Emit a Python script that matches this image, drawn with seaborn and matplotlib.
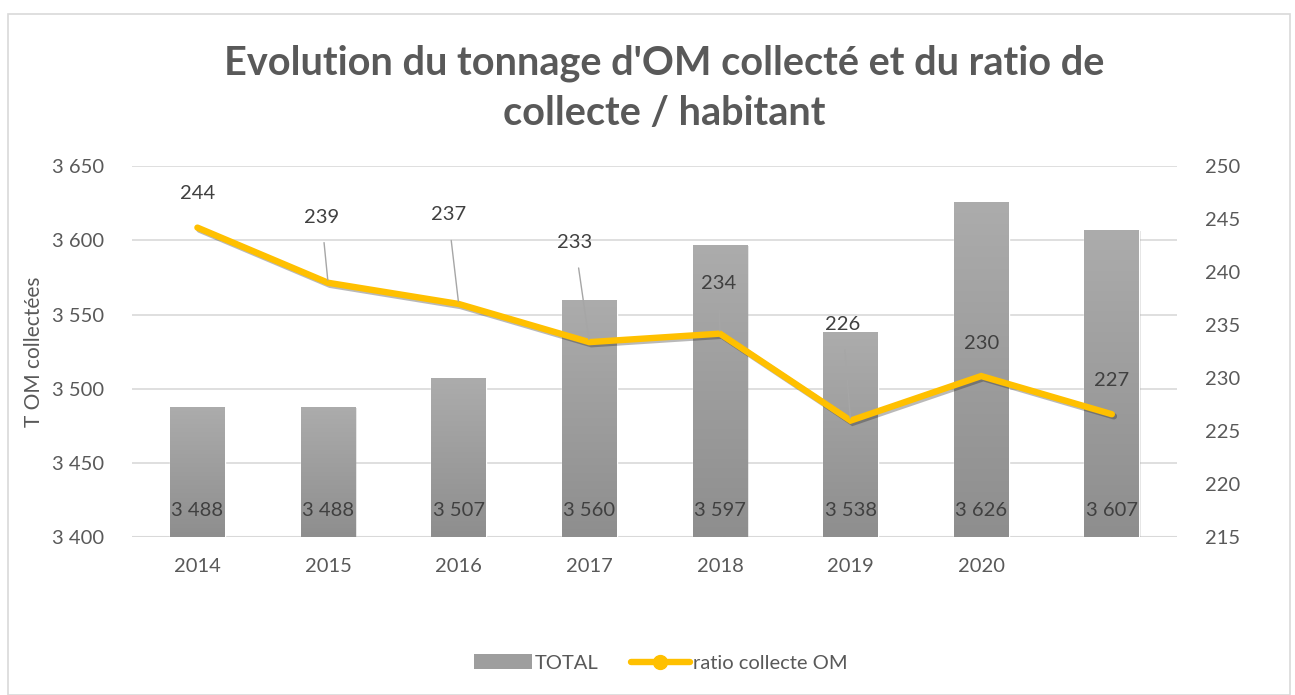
import numpy as np
import pandas as pd
import matplotlib
matplotlib.use("Agg")
import matplotlib.pyplot as plt
import matplotlib.patheffects as pe
from matplotlib.patches import Rectangle
from matplotlib.lines import Line2D
import seaborn as sns

years = ["2014", "2015", "2016", "2017", "2018", "2019", "2020", ""]
total = [3488, 3488, 3507, 3560, 3597, 3538, 3626, 3607]
ratio = [244.2, 239.0, 237.0, 233.4, 234.2, 226.0, 230.2, 226.6]
ratio_labels = ["244", "239", "237", "233", "234", "226", "230", "227"]
# where each ratio label sits (category offset, right-axis value) and whether it has a leader line
label_pos = [(0.0, 247.4), (-0.05, 245.2), (-0.08, 245.4), (-0.11, 242.8),
             (-0.01, 238.9), (-0.06, 235.1), (0.0, 233.3), (0.0, 229.8)]
leader = [False, True, True, True, True, True, False, False]

sns.set_theme(style="white")
plt.rcParams["font.family"] = ["Lato", "DejaVu Sans"]
txt = "#595959"
fs = 14.5

df = pd.DataFrame({"annee": years, "total": total, "ratio": ratio})

fig = plt.figure(figsize=(12.95, 6.95), dpi=100)
ax = fig.add_axes([0.102, 0.227, 0.807, 0.534])

sns.barplot(data=df, x="annee", y="total", ax=ax, color="#9E9E9E", width=0.42,
            saturation=1, zorder=2)

ax.set_ylim(3400, 3650)
ax.set_yticks(np.arange(3400, 3651, 50))
ax.set_yticklabels([f"{v:,}".replace(",", " ") for v in np.arange(3400, 3651, 50)])
ax.set_xlim(-0.5, len(years) - 0.5)

# vertical gradient on the bars
grad = np.linspace(0, 1, 256).reshape(-1, 1)
cmap = matplotlib.colors.LinearSegmentedColormap.from_list("g", ["#8E8E8E", "#ACACAC"])
for p in ax.patches:
    x0, y0 = p.get_x(), p.get_y()
    w, h = p.get_width(), p.get_height()
    p.set_path_effects([pe.SimplePatchShadow(offset=(1, -1), alpha=0.15), pe.Normal()])
    im = ax.imshow(grad, extent=[x0, x0 + w, 3400, y0 + h], origin="lower",
                   aspect="auto", cmap=cmap, zorder=2.5)
    im.set_clip_path(p)

for i, v in enumerate(total):
    ax.text(i, 3418, f"{v:,}".replace(",", " "), ha="center", va="center",
            fontsize=fs, color="#404040", zorder=5)

ax.grid(axis="y", color="#D9D9D9", linewidth=1.2, zorder=0)
ax.set_axisbelow(True)
for s in ax.spines.values():
    s.set_visible(False)
ax.axhline(3400, color="#D9D9D9", linewidth=1.5, zorder=1)
ax.tick_params(axis="both", length=0, labelsize=fs, labelcolor=txt)
ax.tick_params(axis="x", pad=15)
ax.tick_params(axis="y", pad=20)
ax.set_xlabel("")
ax.set_ylabel("T OM collectées", fontsize=15, color=txt, labelpad=6)

ax2 = ax.twinx()
sns.pointplot(data=df, x="annee", y="ratio", ax=ax2, color="#FFC000", markers="",
              linewidth=4.6, zorder=4)
for ln in ax2.lines:
    ln.set_solid_capstyle("round")
    ln.set_solid_joinstyle("miter")
    ln.set_path_effects([pe.SimpleLineShadow(offset=(1.5, -1.5), alpha=0.3), pe.Normal()])
ax2.set_ylim(215, 250)
ax2.set_yticks(np.arange(215, 251, 5))
ax2.set_xlim(-0.5, len(years) - 0.5)
ax2.set_ylabel("")
for s in ax2.spines.values():
    s.set_visible(False)
ax2.tick_params(axis="y", length=0, labelsize=fs, labelcolor=txt, pad=20)

for i, (lab, (dx, ly)) in enumerate(zip(ratio_labels, label_pos)):
    if leader[i]:
        ax2.annotate(lab, xy=(i, ratio[i]), xytext=(i + dx, ly), ha="center", va="center",
                     fontsize=fs, color="#404040", zorder=6,
                     arrowprops=dict(arrowstyle="-", color="#A6A6A6", lw=1,
                                     shrinkA=10, shrinkB=2))
    else:
        ax2.text(i + dx, ly, lab, ha="center", va="center", fontsize=fs,
                 color="#404040", zorder=6)

fig.text(0.513, 0.873, "Evolution du tonnage d'OM collecté et du ratio de\ncollecte / habitant",
         ha="center", va="center", fontsize=28.5, fontweight="bold", color=txt,
         linespacing=1.42)

handles = [Rectangle((0, 0), 1, 1, facecolor="#9E9E9E", edgecolor="none"),
           Line2D([0], [0], color="#FFC000", linewidth=4.6, marker="o", markersize=10)]
fig.legend(handles, ["TOTAL", "ratio collecte OM"], loc="center", bbox_to_anchor=(0.51, 0.046),
           ncol=2, frameon=False, fontsize=fs, labelcolor=txt, handlelength=2.9,
           handletextpad=0.15, columnspacing=1.6)

fig.patches.append(Rectangle((0.006, 0.0), 0.99, 0.98, transform=fig.transFigure,
                             fill=False, edgecolor="#D9D9D9", linewidth=1.2))

fig.savefig("out.png", dpi=100)
